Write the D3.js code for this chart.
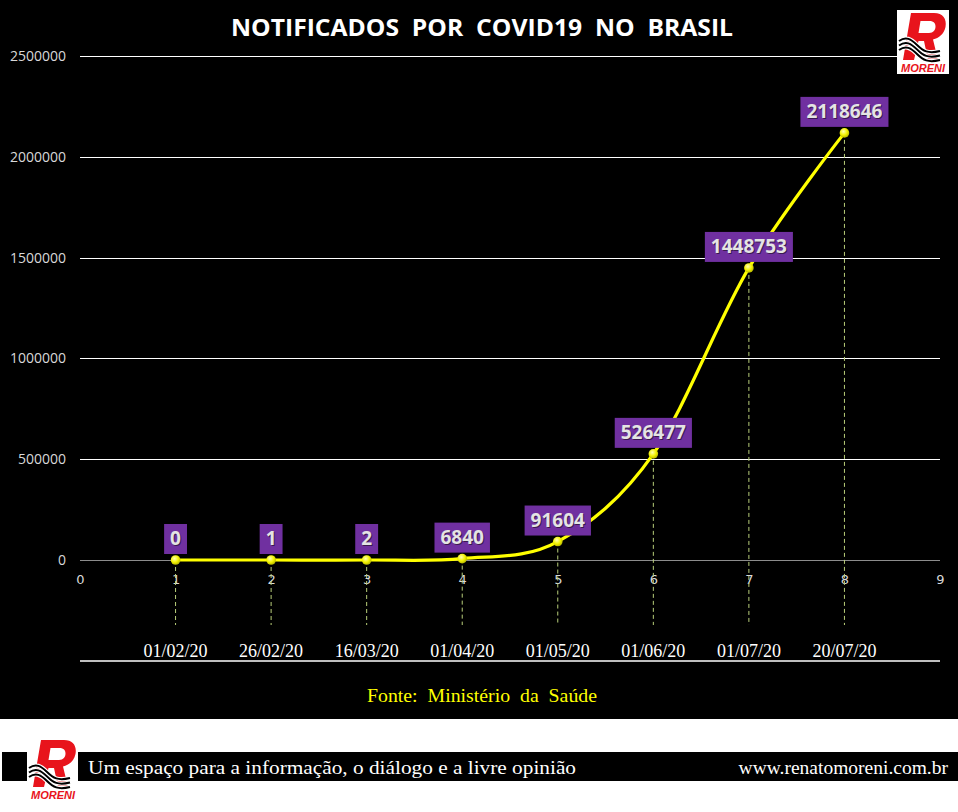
<!DOCTYPE html>
<html>
<head>
<meta charset="utf-8">
<script src="https://cdn.jsdelivr.net/npm/d3@7/dist/d3.min.js"></script>
<style>
html,body{margin:0;padding:0;background:#fff;}
svg{display:block;}
</style>
</head>
<body>
<svg id="chart" width="958" height="812"></svg>
<script>
// ---- data ----
const categories = [1, 2, 3, 4, 5, 6, 7, 8];
const dates = ["01/02/20", "26/02/20", "16/03/20", "01/04/20", "01/05/20", "01/06/20", "01/07/20", "20/07/20"];
const values = [0, 1, 2, 6840, 91604, 526477, 1448753, 2118646];
const yTicks = [0, 500000, 1000000, 1500000, 2000000, 2500000];
const xTicks = [0, 1, 2, 3, 4, 5, 6, 7, 8, 9];
const titleText = "NOTIFICADOS  POR  COVID19  NO  BRASIL";
const sourceText = "Fonte:  Ministério  da  Saúde";
const footerText = "Um espaço para a informação, o diálogo e a livre opinião";
const urlText = "www.renatomoreni.com.br";

const svg = d3.select("#chart");
const W = 958, H = 812;

// backgrounds
svg.append("rect").attr("x", 0).attr("y", 0).attr("width", W).attr("height", 719).attr("fill", "#000");
svg.append("rect").attr("x", 0).attr("y", 719).attr("width", W).attr("height", H - 719).attr("fill", "#fff");

// gradient for markers
const defs = svg.append("defs");
const rg = defs.append("radialGradient").attr("id", "mk").attr("cx", "40%").attr("cy", "35%").attr("r", "65%");
rg.append("stop").attr("offset", "0%").attr("stop-color", "#ffffb0");
rg.append("stop").attr("offset", "60%").attr("stop-color", "#f2f200");
rg.append("stop").attr("offset", "100%").attr("stop-color", "#b8b800");

// scales
const x = d3.scaleLinear().domain([0, 9]).range([80, 940]);
const y = d3.scaleLinear().domain([0, 2500000]).range([560, 56]);

// y axis with gridlines
const yAxis = svg.append("g").attr("transform", "translate(80,0)")
  .call(d3.axisLeft(y).tickValues(yTicks).tickSize(-860).tickPadding(14).tickFormat(d3.format("d")));
yAxis.select(".domain").remove();
yAxis.selectAll(".tick line").attr("stroke", d => d === 0 ? "#8c8c8c" : "#ffffff").attr("stroke-width", 1)
  .attr("shape-rendering", "crispEdges");
yAxis.selectAll(".tick text").attr("fill", "#d9d9d9").attr("font-family", "'Open Sans', sans-serif").attr("font-size", 14);

// x axis numbers
const xAxis = svg.append("g").attr("transform", "translate(0,560)")
  .call(d3.axisBottom(x).tickValues(xTicks).tickSize(0).tickPadding(15));
xAxis.select(".domain").remove();
xAxis.selectAll(".tick text").attr("fill", "#d9d9d9").attr("font-family", "'DejaVu Sans', sans-serif").attr("font-size", 13);

// drop lines
svg.append("g").selectAll("line").data(categories).join("line")
  .attr("x1", d => x(d)).attr("x2", d => x(d))
  .attr("y1", (d, i) => y(values[i])).attr("y2", 625)
  .attr("stroke", "#b9cf7a").attr("stroke-width", 1).attr("stroke-dasharray", "4,3");

// white bottom rule
svg.append("line").attr("x1", x(0)).attr("x2", x(9)).attr("y1", 661).attr("y2", 661)
  .attr("stroke", "#fff").attr("stroke-width", 1.5);

// date labels
svg.append("g").selectAll("text").data(categories).join("text")
  .attr("x", d => x(d)).attr("y", 657).attr("text-anchor", "middle")
  .attr("fill", "#fff").attr("font-family", "'Liberation Serif', serif").attr("font-size", 18)
  .text((d, i) => dates[i]);

// line
const pts = categories.map((c, i) => [x(c), y(values[i])]);
svg.append("path").attr("d", d3.line().curve(d3.curveCatmullRom.alpha(0))(pts))
  .attr("fill", "none").attr("stroke", "#ffff00").attr("stroke-width", 3.2);

// markers
svg.append("g").selectAll("circle").data(pts).join("circle")
  .attr("cx", d => d[0]).attr("cy", d => d[1]).attr("r", 4.8)
  .attr("fill", "url(#mk)");

// data labels
const lab = svg.append("g");
categories.forEach((c, i) => {
  const g = lab.append("g");
  const t = g.append("text").attr("font-family", "'Open Sans', sans-serif").attr("font-weight", "bold")
    .attr("font-size", 19).attr("text-anchor", "middle").text(String(values[i]));
  const w = t.node().getComputedTextLength();
  const cx = x(c), by = y(values[i]) - 6;
  t.remove();
  g.append("rect").attr("x", cx - w / 2 - 6).attr("y", by - 30).attr("width", w + 12).attr("height", 30).attr("fill", "#7030a0");
  g.append("text").attr("x", cx + 1).attr("y", by - 8).attr("text-anchor", "middle")
    .attr("font-family", "'Open Sans', sans-serif").attr("font-weight", "bold").attr("font-size", 19)
    .attr("fill", "#3a1a50").text(String(values[i]));
  g.append("text").attr("x", cx).attr("y", by - 9).attr("text-anchor", "middle")
    .attr("font-family", "'Open Sans', sans-serif").attr("font-weight", "bold").attr("font-size", 19)
    .attr("fill", "#e4e4e4").text(String(values[i]));
});

// title
svg.append("text").attr("x", 231).attr("y", 36).attr("textLength", 502).attr("lengthAdjust", "spacingAndGlyphs")
  .attr("fill", "#fff").attr("font-family", "'Open Sans', sans-serif").attr("font-weight", "bold").attr("font-size", 23)
  .style("white-space", "pre").text(titleText);

// source
svg.append("text").attr("x", 367).attr("y", 702).attr("textLength", 230).attr("lengthAdjust", "spacingAndGlyphs")
  .attr("fill", "#ffff00").attr("font-family", "'Liberation Serif', serif").attr("font-size", 18.5)
  .style("white-space", "pre").text(sourceText);

// footer band
svg.append("rect").attr("x", 2).attr("y", 752).attr("width", W - 2).attr("height", 29).attr("fill", "#000");
svg.append("rect").attr("x", 27).attr("y", 734).attr("width", 51).attr("height", 68).attr("fill", "#fff");
svg.append("text").attr("x", 88).attr("y", 774).attr("textLength", 488).attr("lengthAdjust", "spacingAndGlyphs")
  .attr("fill", "#fff").attr("font-family", "'Liberation Serif', serif").attr("font-size", 19.5).text(footerText);
svg.append("text").attr("x", 948).attr("y", 774).attr("text-anchor", "end")
  .attr("fill", "#fff").attr("font-family", "'Liberation Serif', serif").attr("font-size", 19.5).text(urlText);

// logo (drawn shape in a 52x64 box)
function drawLogo(px, py, s, box) {
  const g = svg.append("g").attr("transform", `translate(${px},${py}) scale(${s})`);
  if (box) g.append("rect").attr("x", 0).attr("y", 0).attr("width", 52).attr("height", 64).attr("fill", "#fff");
  const rPath = "M14,3 L37,3 C46,3 50,9 48.5,17 C47,24 42,28 36,29.5 L41,50 L31,50 L27,31 L21.5,31 L17,50 L6,50 Z " +
                "M23.5,11 L21.5,23 L32,23 C36.5,23 38.5,20 38.5,16.5 C38.5,12.5 36,11 32,11 Z";
  g.append("path").attr("d", rPath).attr("fill", "#e8141c").attr("fill-rule", "evenodd");
  for (let k = 0; k < 3; k++) {
    const o = k * 4.5;
    const d = `M2,${31 + o} C9,${26 + o} 14,${29 + o} 20,${35 + o} S31,${44 + o} 43,${41 + o}`;
    g.append("path").attr("d", d).attr("fill", "none").attr("stroke", "#fff").attr("stroke-width", 4.2);
    g.append("path").attr("d", d).attr("fill", "none").attr("stroke", "#000").attr("stroke-width", 2);
  }
  g.append("text").attr("x", 26).attr("y", 62).attr("text-anchor", "middle").attr("font-family", "'Liberation Sans', sans-serif")
    .attr("font-weight", "bold").attr("font-style", "italic").attr("font-size", 11).attr("fill", "#e8141c").text("MORENI");
}
drawLogo(897, 10, 1, true);
drawLogo(27, 737, 1, false);
</script>
</body>
</html>
